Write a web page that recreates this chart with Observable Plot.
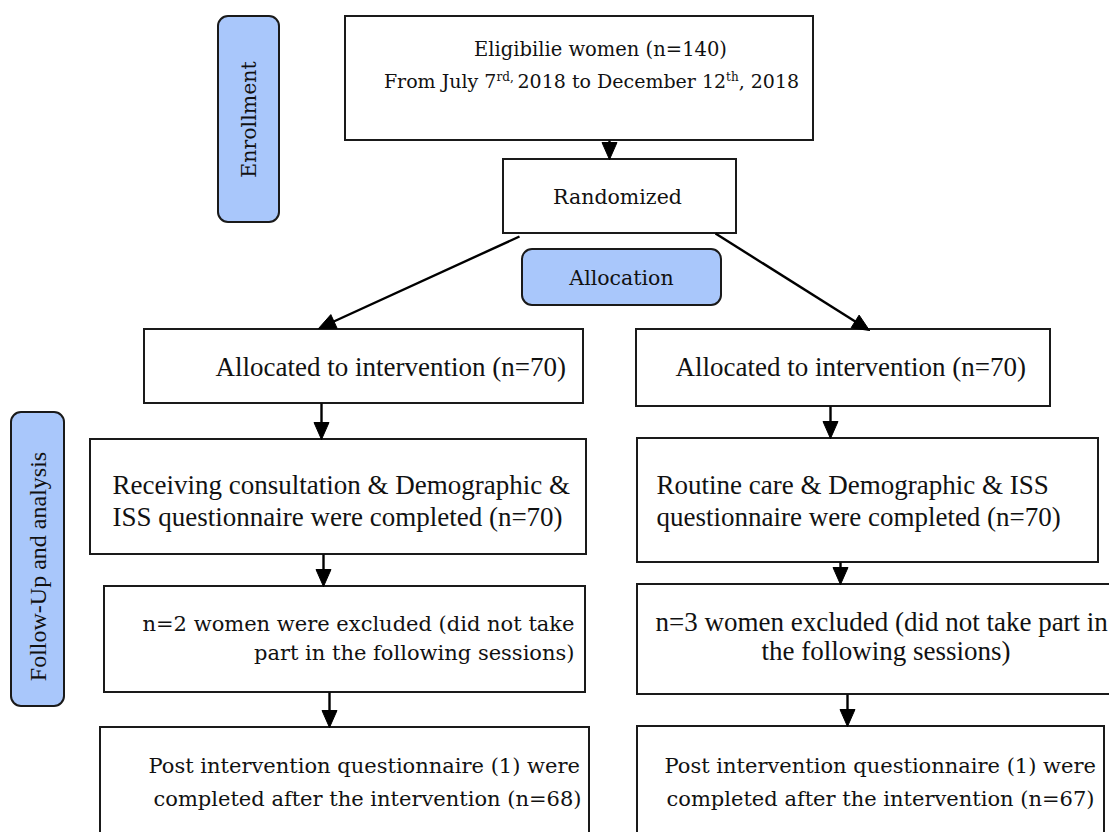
<!DOCTYPE html>
<html>
<head>
<meta charset="utf-8">
<script src="https://cdn.jsdelivr.net/npm/d3@7"></script>
<script src="https://cdn.jsdelivr.net/npm/@observablehq/plot@0.6"></script>
<style>
  html, body { margin: 0; padding: 0; background: #fff; overflow: hidden; }
  #chart svg { display: block; }
</style>
</head>
<body>
<div id="chart"></div>
<script>
// ---------- content ----------
const stageLabels = ["Enrollment", "Follow-Up and analysis", "Allocation"];
const stepTexts = [
  "Eligibilie women (n=140)",
  "From July 7rd, 2018 to December 12th, 2018",
  "Randomized",
  "Allocated to intervention (n=70)",
  "Allocated to intervention (n=70)",
  "Receiving consultation & Demographic &",
  "ISS questionnaire were completed (n=70)",
  "Routine care & Demographic & ISS",
  "questionnaire were completed (n=70)",
  "n=2 women were excluded (did not take",
  "part in the following sessions)",
  "n=3 women excluded (did not take part in",
  "the following sessions)",
  "Post intervention questionnaire (1) were",
  "completed after the intervention (n=68)",
  "Post intervention questionnaire (1) were",
  "completed after the intervention (n=67)"
];

// ---------- layout (diagram coordinates, 1 unit = 1 px) ----------
const W = 1109, H = 832;
const boxKind = ["stage","stage","stage","step","step","step","step","step","step","step","step","step","step"];
const boxX1 = [218, 11, 522, 345, 503, 144, 636, 90, 637, 104, 637, 100, 637];
const boxX2 = [279, 64, 721, 813, 736, 583, 1050, 586, 1098, 585, 1130, 589, 1104];
const boxY1 = [16, 412, 249, 16, 159, 329, 329, 439, 438, 586, 584, 727, 726];
const boxY2 = [222, 706, 305, 140, 233, 403, 406, 554, 562, 692, 694, 860, 860];

// connectors: from -> to (tip)
const arrX1 = [609, 519, 715, 321, 830, 323, 840, 329, 847];
const arrY1 = [140, 236, 233, 403, 406, 554, 562, 692, 694];
const arrX2 = [609, 318, 869, 321, 830, 323, 840, 329, 847];
const arrY2 = [159, 328, 330, 439, 438, 586, 584, 727, 726];

// stage label placement
const stageX = [249, 38, 621];
const stageY = [119, 566, 278];
const stageRotate = [-90, -90, 0];
const stageFont = ["C", "T", "C"];
const stageSize = [20.5, 24, 20.5];

// step text placement (baselines)
const stepX = [600, 591, 617, 215, 675, 112, 112, 656, 656, 574, 574, 655, 1010, 148, 153, 664, 666];
const stepY = [55, 87, 203, 375, 375, 493, 525, 493, 525, 630, 659, 630, 659, 772, 805, 772, 805];
const stepAnchor = ["middle","middle","middle","start","start","start","start","start","start","end","end","start","end","start","start","start","start"];
const stepFont = ["C","C","C","T","T","T","T","T","T","C","C","T","T","C","C","C","C"];
const stepSize = [19.5, 19, 20.5, 27, 27, 27, 27, 27, 27, 21, 21, 27, 27, 21, 21, 21, 21];

// ---------- build tables ----------
const boxes = boxKind.map((k, i) => ({kind: k, x1: boxX1[i], x2: boxX2[i], y1: boxY1[i], y2: boxY2[i]}));
const links = arrX1.map((_, i) => ({x1: arrX1[i], y1: arrY1[i], x2: arrX2[i], y2: arrY2[i], id: i}));
const headLen = 17, headHalf = 7.5;
const heads = links.flatMap(l => {
  const dx = l.x2 - l.x1, dy = l.y2 - l.y1, len = Math.hypot(dx, dy);
  const ux = dx / len, uy = dy / len;
  const bx = l.x2 - ux * headLen, by = l.y2 - uy * headLen;
  const px = -uy, py = ux;
  return [
    {id: l.id, x: l.x2, y: l.y2},
    {id: l.id, x: bx + px * headHalf, y: by + py * headHalf},
    {id: l.id, x: bx - px * headHalf, y: by - py * headHalf},
    {id: l.id, x: l.x2, y: l.y2}
  ];
});
const shaft = links.map(l => {
  const dx = l.x2 - l.x1, dy = l.y2 - l.y1, len = Math.hypot(dx, dy);
  return {x1: l.x1, y1: l.y1, x2: l.x2 - dx / len * (headLen - 2), y2: l.y2 - dy / len * (headLen - 2)};
});

const fam = {
  C: "'DejaVu Serif', serif",
  T: "'Liberation Serif', 'Times New Roman', serif"
};

const stageTextMarks = stageLabels.map((t, i) => Plot.text([{t, x: stageX[i], y: stageY[i]}], {
  x: "x", y: "y", text: "t", rotate: stageRotate[i], textAnchor: "middle", lineAnchor: "middle",
  fill: "#111", fontFamily: fam[stageFont[i]], fontSize: stageSize[i]
}));
const stepTextMarks = stepTexts.map((t, i) => Plot.text([{t, x: stepX[i], y: stepY[i]}], {
  x: "x", y: "y", text: "t", textAnchor: stepAnchor[i], lineAnchor: "bottom",
  fill: "#111", fontFamily: fam[stepFont[i]], fontSize: stepSize[i]
}));

const chart = Plot.plot({
  width: W, height: H, margin: 0,
  x: {domain: [0, W], range: [0, W], axis: null},
  y: {domain: [0, H], range: [0, H], axis: null},
  style: {background: "#fff", overflow: "hidden"},
  marks: [
    Plot.rect(boxes.filter(d => d.kind === "step"), {x1: "x1", x2: "x2", y1: "y1", y2: "y2", fill: "#fff", stroke: "#1a1a1a", strokeWidth: 2, clip: true}),
    Plot.rect(boxes.filter(d => d.kind === "stage"), {x1: "x1", x2: "x2", y1: "y1", y2: "y2", fill: "#a9c7fb", stroke: "#1a1a1a", strokeWidth: 2, rx: 10, ry: 10}),
    Plot.link(shaft, {x1: "x1", y1: "y1", x2: "x2", y2: "y2", stroke: "#000", strokeWidth: 2.4}),
    Plot.line(heads, {x: "x", y: "y", z: "id", fill: "#000", stroke: "#000", strokeWidth: 1, curve: "linear"}),
    ...stageTextMarks,
    ...stepTextMarks
  ]
});
document.getElementById("chart").appendChild(chart);

// superscripts on the date line
d3.select(chart).selectAll("text").each(function () {
  const el = d3.select(this);
  if (el.text().startsWith("From July")) {
    el.text(null);
    const parts = [["From July 7", false], ["rd, ", true], ["2018 to December 12", false], ["th", true], [", 2018", false]];
    for (const [s, sup] of parts) {
      const ts = el.append("tspan").text(s);
      if (sup) ts.attr("font-size", "12px").attr("baseline-shift", "super");
    }
  }
});
</script>
</body>
</html>
